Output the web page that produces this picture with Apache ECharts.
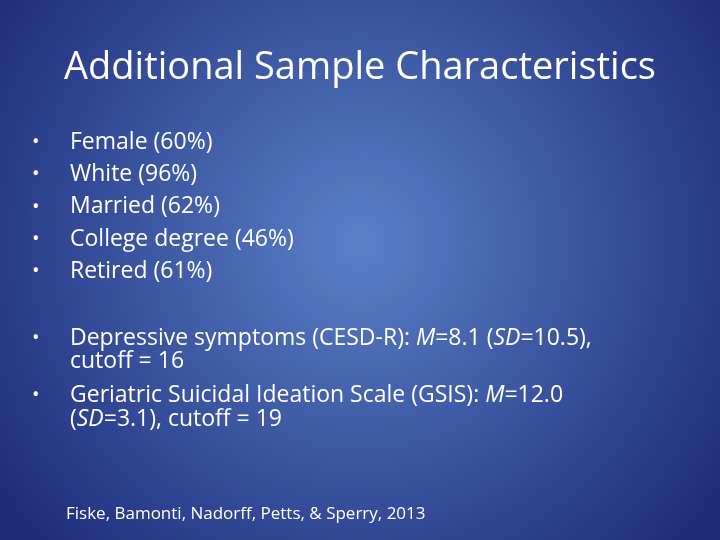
<!DOCTYPE html>
<html><head><meta charset="utf-8">
<script src="https://cdn.jsdelivr.net/npm/echarts@6/dist/echarts.min.js"></script>
<style>html,body{margin:0;padding:0}#c{width:720px;height:540px}</style>
</head><body><div id="c"></div>
<script>
const titleText = "Additional Sample Characteristics";
const bulletItems = ["Female (60%)", "White (96%)", "Married (62%)", "College degree (46%)", "Retired (61%)"];
const statLines = [
  ["Depressive symptoms (CESD-R): {i|M}=8.1 ({i|SD}=10.5),", "cutoff = 16"],
  ["Geriatric Suicidal Ideation Scale (GSIS): {i|M}=12.0", "({i|SD}=3.1), cutoff = 19"]
];
const citation = "Fiske, Bamonti, Nadorff, Petts, & Sperry, 2013";

const font = "'Open Sans', 'Liberation Sans', sans-serif";
const white = "#ffffff";
const els = [];
els.push({type:'rect', shape:{x:0,y:0,width:720,height:540}, style:{fill:{type:'radial',x:0.5,y:0.45,r:0.8,colorStops:[{offset:0,color:'#5a80c8'},{offset:1,color:'#1f2d7c'}]}}});
els.push({type:'text', x:360, y:68, style:{text:titleText, fill:white, font:"38px "+font, align:'center', verticalAlign:'middle'}});
const fs = 23;
bulletItems.forEach((t,i)=>{
  const y = 142 + i*32.4;
  els.push({type:'text', x:32, y:y, style:{text:"•", fill:white, font:"20px "+font, verticalAlign:'middle'}});
  els.push({type:'text', x:70, y:y, style:{text:t, fill:white, font:fs+"px "+font, verticalAlign:'middle'}});
});
const ys = [[338,361],[395,419]];
statLines.forEach((lines,k)=>{
  els.push({type:'text', x:32, y:ys[k][0], style:{text:"•", fill:white, font:"20px "+font, verticalAlign:'middle'}});
  lines.forEach((l,j)=>{
    els.push({type:'text', x:70, y:ys[k][j], style:{text:l, fill:white, font:fs+"px "+font, verticalAlign:'middle', rich:{i:{fontStyle:'italic', fontSize:fs, fontFamily:font, fill:white}}}});
  });
});
els.push({type:'text', x:66, y:514, style:{text:citation, fill:white, font:"17px "+font, verticalAlign:'middle'}});
const chart = echarts.init(document.getElementById('c'));
chart.setOption({graphic:{elements:els}});
</script></body></html>
